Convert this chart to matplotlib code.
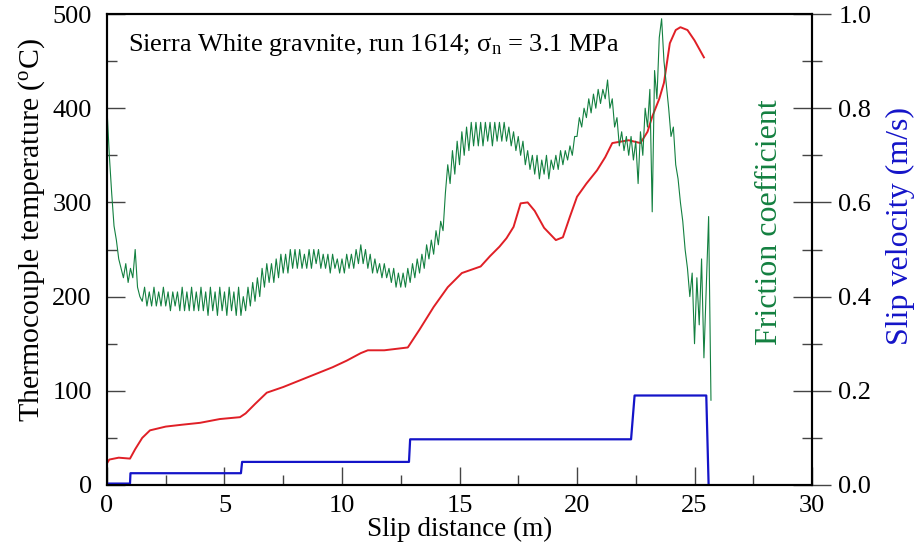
import numpy as np
import matplotlib
matplotlib.use("Agg")
import matplotlib.pyplot as plt
from matplotlib.ticker import MultipleLocator

plt.rcParams["font.family"] = ["Liberation Serif", "DejaVu Serif"]
plt.rcParams["mathtext.fontset"] = "custom"
plt.rcParams["mathtext.rm"] = "Liberation Serif"
plt.rcParams["mathtext.it"] = "Liberation Serif:italic"

# thermocouple temperature (degC) vs slip distance (m)
temp_x = [0.0, 0.1, 0.5, 0.98, 1.2, 1.5, 1.83, 2.5, 3.2, 3.96, 4.8, 5.66, 5.9,
          6.3, 6.8, 7.5, 8.2, 8.9, 9.6, 10.2, 10.8, 11.1, 11.8, 12.8, 13.3,
          13.9, 14.5, 15.1, 15.9, 16.3, 16.7, 17.0, 17.3, 17.6, 17.9, 18.2,
          18.6, 19.1, 19.4, 19.7, 20.0, 20.4, 20.85, 21.2, 21.5, 22.2, 22.7,
          23.0, 23.2, 23.5, 23.7, 23.95, 24.2, 24.4, 24.7, 25.0, 25.4]
temp_c = [23, 27, 29, 28, 38, 50, 58, 62, 64, 66, 70, 72, 76,
          86, 98, 104, 111, 118, 125, 132, 140, 143, 143, 146, 165,
          189, 210, 225, 232, 243, 253, 262, 274, 299, 300, 291,
          273, 260, 263, 285, 306, 320, 334, 348, 363, 366, 363,
          375, 391, 410, 427, 469, 483, 486, 483, 472, 454]

# friction coefficient, read every 0.1 m of slip
friction_step = 0.1
friction = [
    0.80, 0.70, 0.62, 0.55, 0.52, 0.48, 0.46, 0.44, 0.47, 0.43,
    0.46, 0.44, 0.50, 0.42, 0.40, 0.39, 0.42, 0.38, 0.41, 0.38,
    0.42, 0.38, 0.41, 0.38, 0.42, 0.38, 0.41, 0.37, 0.41, 0.38,
    0.41, 0.37, 0.42, 0.37, 0.41, 0.37, 0.42, 0.37, 0.41, 0.37,
    0.42, 0.37, 0.41, 0.36, 0.42, 0.37, 0.41, 0.36, 0.42, 0.37,
    0.41, 0.36, 0.42, 0.37, 0.41, 0.36, 0.42, 0.36, 0.40, 0.37,
    0.42, 0.38, 0.43, 0.39, 0.44, 0.40, 0.46, 0.42, 0.47, 0.43,
    0.47, 0.43, 0.48, 0.44, 0.49, 0.45, 0.49, 0.45, 0.50, 0.46,
    0.50, 0.46, 0.50, 0.46, 0.49, 0.46, 0.50, 0.46, 0.50, 0.47,
    0.50, 0.46, 0.49, 0.46, 0.49, 0.45, 0.49, 0.46, 0.48, 0.45,
    0.48, 0.45, 0.49, 0.46, 0.49, 0.46, 0.50, 0.47, 0.51, 0.47,
    0.50, 0.46, 0.49, 0.45, 0.48, 0.45, 0.47, 0.44, 0.47, 0.44,
    0.46, 0.43, 0.46, 0.42, 0.45, 0.42, 0.45, 0.42, 0.46, 0.43,
    0.47, 0.44, 0.48, 0.45, 0.49, 0.46, 0.51, 0.48, 0.52, 0.49,
    0.54, 0.51, 0.56, 0.54, 0.62, 0.68, 0.64, 0.71, 0.66, 0.73,
    0.68, 0.75, 0.70, 0.76, 0.71, 0.77, 0.72, 0.77, 0.72, 0.77,
    0.72, 0.77, 0.73, 0.77, 0.72, 0.77, 0.73, 0.77, 0.73, 0.77,
    0.73, 0.76, 0.72, 0.75, 0.71, 0.74, 0.70, 0.73, 0.68, 0.71,
    0.67, 0.70, 0.66, 0.70, 0.65, 0.69, 0.66, 0.70, 0.65, 0.69,
    0.67, 0.70, 0.67, 0.71, 0.68, 0.71, 0.69, 0.72, 0.70, 0.74,
    0.74, 0.78, 0.76, 0.80, 0.78, 0.82, 0.79, 0.83, 0.80, 0.84,
    0.81, 0.84, 0.82, 0.86, 0.80, 0.82, 0.76, 0.78, 0.72, 0.75,
    0.71, 0.74, 0.70, 0.74, 0.69, 0.73, 0.64, 0.75, 0.70, 0.80,
    0.76, 0.84, 0.58, 0.88, 0.82, 0.95, 0.99, 0.90, 0.85, 0.80,
    0.74, 0.76, 0.68, 0.65, 0.60, 0.56, 0.50, 0.46, 0.40, 0.45,
    0.30, 0.44, 0.34, 0.48, 0.27, 0.42, 0.57, 0.18,
]

# slip velocity (m/s) steps
vel_x = [0.0, 0.98, 1.0, 5.7, 5.75, 12.85, 12.9, 22.3, 22.45, 25.5, 25.6]
vel = [0.003, 0.003, 0.025, 0.025, 0.049, 0.049, 0.097, 0.097, 0.19, 0.19, 0.0]

RED = "#e01f26"
GREEN = "#138040"
BLUE = "#1414c8"

fig = plt.figure(figsize=(9.19, 5.52), dpi=100)
ax = fig.add_axes([0.1164, 0.1214, 0.7672, 0.8532])
ax2 = ax.twinx()

fx = np.arange(len(friction)) * friction_step
ax2.plot(fx, friction, color=GREEN, lw=0.8)
ax2.plot(vel_x, vel, color=BLUE, lw=1.6)
ax.plot(temp_x, temp_c, color=RED, lw=1.4, zorder=3)

ax.set_xlim(0, 30)
ax.set_ylim(0, 500)
ax2.set_ylim(0, 1.0)

ax.xaxis.set_major_locator(MultipleLocator(5))
ax.xaxis.set_minor_locator(MultipleLocator(2.5))
ax.yaxis.set_major_locator(MultipleLocator(100))
ax.yaxis.set_minor_locator(MultipleLocator(50))
ax2.yaxis.set_major_locator(MultipleLocator(0.2))
ax2.yaxis.set_minor_locator(MultipleLocator(0.1))
ax2.yaxis.set_major_formatter(plt.FormatStrFormatter("%.1f"))

tc = "#444444"
ax.tick_params(which="major", direction="in", length=13, width=1, color=tc,
               labelsize=19, pad=11, top=False, right=False)
ax.tick_params(which="minor", direction="in", length=7, width=1, color=tc,
               top=False, right=False)
ax.tick_params(axis="x", pad=7)
ax2.tick_params(which="major", direction="inout", length=28, width=1, color=tc,
                labelsize=19, pad=5)
ax2.tick_params(which="minor", direction="inout", length=14, width=1, color=tc)

for a in (ax, ax2):
    for s in a.spines.values():
        s.set_linewidth(1.5)
        s.set_color("black")

ax.set_xlabel("Slip distance (m)", fontsize=19.5, labelpad=0)
ax.text(-0.107, 0.541, "Thermocouple temperature ($^{\\rm o}$C)", transform=ax.transAxes,
        rotation=90, ha="center", va="center", fontsize=21.5)
ax.text(0.03, 0.934, "Sierra White gravnite, run 1614; \u03c3$_{\\rm n}$ = 3.1 MPa",
        transform=ax.transAxes, ha="left", va="center", fontsize=19)
ax2.text(0.939, 0.558, "Friction coefficient", transform=ax.transAxes, rotation=90,
         ha="center", va="center", fontsize=23, color=GREEN)
ax2.text(1.126, 0.55, "Slip velocity (m/s)", transform=ax.transAxes, rotation=90,
         ha="center", va="center", fontsize=23, color=BLUE)

fig.savefig("out.png", dpi=100)
